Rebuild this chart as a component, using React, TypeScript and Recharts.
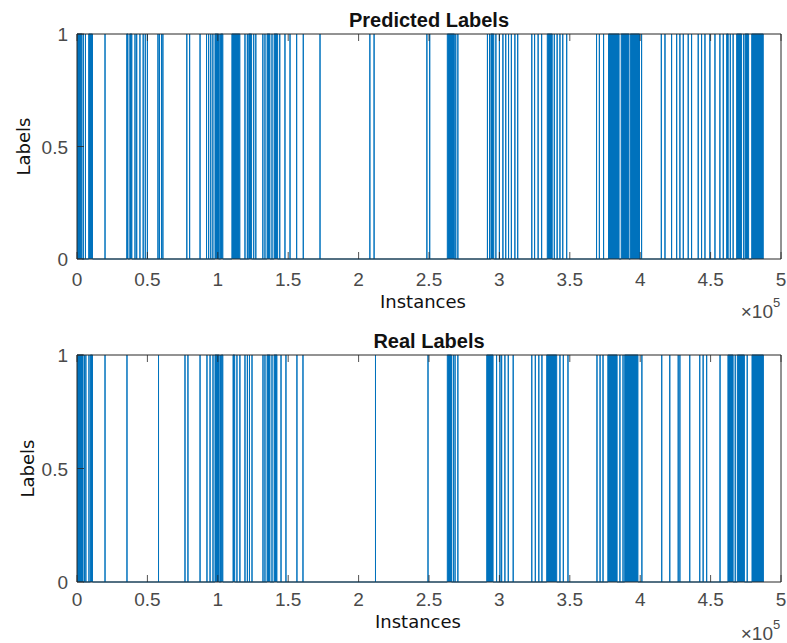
import { AreaChart, Area, XAxis, YAxis, Label } from "recharts"

const CHART_W = 787
const LINE_BLUE = "#0072BD"
const AXIS_GREY = "#262626"
const TICK_GREY = "#4a4a4a"
const TICK_FONT = "'Liberation Sans', Arial, sans-serif"
const LABEL_FONT = "'DejaVu Sans', Verdana, sans-serif"

const xTicks = [0, 50000, 100000, 150000, 200000, 250000, 300000, 350000, 400000, 450000, 500000]
const yTicks = [0, 0.5, 1]

// positions are in thousands of instances (axis reads them x10^5)
// lone spikes: label goes to 1 for a single instance
const predictedSpikes = [
  4.5, 6, 19.9, 41.2, 42.4, 44.7, 47, 48.5, 50, 57.5, 58.5, 60, 61, 78, 80, 87.4, 92, 93.5, 95, 96.5,
  101.5, 119.3, 121, 125.5, 127, 132, 133.5, 138.5, 144, 147.7, 151.3, 156, 160.7, 172.6, 208, 211,
  248.5, 250.5, 269, 270.5, 291.5, 293, 297.5, 300, 302.5, 304.5, 306.5, 308.5, 311, 313, 323, 325,
  327.5, 330, 339, 341, 343, 345, 347.8, 369, 371, 374, 401, 415, 417.6, 422.3, 425.9, 428.2, 430.6,
  434.1, 436.5, 441.2, 443.6, 446, 449.5, 453.1, 456.6, 459, 464, 466, 473.5
]
// stretches where the label flips to 1 so often it reads as a solid block
const predictedRuns = [
  [0, 3.5], [8.3, 11], [35.3, 36.2], [37.5, 39], [98, 100.5], [102, 103.6], [110, 115.7], [122, 124],
  [135, 137], [140, 142.5], [263, 268], [294, 296], [334, 337.5], [377.5, 385], [386.5, 392],
  [393, 399.5], [461.4, 462.5], [468.5, 472], [474.5, 477], [479.2, 487.4]
]

const realSpikes = [
  5.3, 6.3, 8.5, 19.9, 35.5, 57.9, 76.7, 78.8, 87.4, 92.3, 94.5, 96.6, 102, 113.6, 115.7, 119.3, 121,
  122.5, 124.3, 132.1, 133.5, 138.5, 144.9, 148.4, 156.2, 160.5, 212, 249.3, 267.3, 268.5, 270.5, 298,
  300.4, 301.6, 303.9, 306.3, 309.8, 323, 325.5, 328, 330.2, 343, 345.4, 348.7, 369.3, 371.5, 373.6,
  385.6, 387.8, 401.2, 415.3, 421, 427, 428.2, 435.2, 442.3, 444.7, 447.2, 456.7, 467.5, 476
]
const realRuns = [
  [0, 4.3], [9.5, 11], [98, 101], [102.5, 103.6], [110.8, 112], [135, 137], [140, 142], [263, 266],
  [291, 295.5], [333.6, 340.7], [377, 383.6], [389, 398.4], [462.3, 466], [469, 474], [479.4, 487.5]
]

function buildSteps(spikes: number[], runs: number[][]) {
  const pulses = [...spikes.map((s) => [s, s]), ...runs].sort((a, b) => a[0] - b[0])
  const rows = [{ x: 0, label: 0 }]
  pulses.forEach(([start, end]) => {
    rows.push({ x: start * 1000, label: 1 })
    rows.push({ x: end * 1000, label: 0 })
  })
  return rows
}

const predictedData = buildSteps(predictedSpikes, predictedRuns)
const realData = buildSteps(realSpikes, realRuns)

const BOTTOM_AXIS_H = 72

const BottomTick = ({ x, y, payload, dy }: any) => (
  <g>
    <line x1={x} y1={y} x2={x} y2={y - 7} stroke={AXIS_GREY} strokeWidth={0.8} />
    <text x={x} y={y + dy} textAnchor="middle" fill={TICK_GREY} fontSize={19} fontFamily={TICK_FONT}>
      {payload.value / 100000}
    </text>
  </g>
)

const TopTick = ({ x, y }: any) => (
  <line x1={x} y1={y} x2={x} y2={y + 7} stroke={AXIS_GREY} strokeWidth={0.8} />
)

const LeftTick = ({ x, y, payload }: any) => (
  <g>
    <line x1={x} y1={y} x2={x + 7} y2={y} stroke={AXIS_GREY} strokeWidth={0.8} />
    <text x={x - 9} y={y + 7} textAnchor="end" fill={TICK_GREY} fontSize={19} fontFamily={TICK_FONT}>
      {payload.value}
    </text>
  </g>
)

const RightTick = ({ x, y }: any) => (
  <line x1={x} y1={y} x2={x - 7} y2={y} stroke={AXIS_GREY} strokeWidth={0.8} />
)

interface PanelProps {
  title: string
  data: { x: number; label: number }[]
  plotTop: number
  plotBottom: number
  titleY: number
  tickDy: number
  xLabelX: number
  xLabelY: number
  x10Y: number
  yLabelX: number
}

function Panel({ title, data, plotTop, plotBottom, titleY, tickDy, xLabelX, xLabelY, x10Y, yLabelX }: PanelProps) {
  const yMid = (plotTop + plotBottom) / 2
  return (
    <AreaChart
      width={CHART_W}
      height={plotBottom + BOTTOM_AXIS_H}
      data={data}
      margin={{ top: plotTop - 1, right: 5, bottom: 0, left: 0 }}
    >
      <XAxis
        dataKey="x"
        type="number"
        domain={[0, 500000]}
        ticks={xTicks}
        interval={0}
        allowDataOverflow
        height={BOTTOM_AXIS_H}
        tickSize={0}
        tickMargin={0}
        stroke={AXIS_GREY}
        tick={(p: any) => <BottomTick {...p} dy={tickDy} />}
      >
        <Label
          content={() => (
            <g>
              <text x={xLabelX} y={xLabelY} textAnchor="middle" fill="#111" fontSize={18} fontFamily={LABEL_FONT}>
                Instances
              </text>
              <text x={773} y={x10Y} textAnchor="end" fill={TICK_GREY} fontSize={19} fontFamily={TICK_FONT}>
                ×10
              </text>
              <text x={773} y={x10Y - 11} textAnchor="start" fill={TICK_GREY} fontSize={13} fontFamily={TICK_FONT}>
                5
              </text>
            </g>
          )}
        />
      </XAxis>
      <XAxis
        xAxisId="top"
        dataKey="x"
        orientation="top"
        type="number"
        domain={[0, 500000]}
        ticks={xTicks}
        interval={0}
        allowDataOverflow
        height={1}
        tickSize={0}
        tickMargin={0}
        stroke={AXIS_GREY}
        tick={(p: any) => <TopTick {...p} />}
      >
        <Label
          content={() => (
            <text x={429} y={titleY} textAnchor="middle" fill="#111" fontSize={20} fontWeight="bold" fontFamily={TICK_FONT}>
              {title}
            </text>
          )}
        />
      </XAxis>
      <YAxis
        domain={[0, 1]}
        ticks={yTicks}
        interval={0}
        width={77}
        tickSize={0}
        tickMargin={0}
        stroke={AXIS_GREY}
        tick={(p: any) => <LeftTick {...p} />}
      >
        <Label
          content={() => (
            <text
              x={yLabelX}
              y={yMid}
              transform={`rotate(-90 ${yLabelX} ${yMid})`}
              textAnchor="middle"
              dominantBaseline="central"
              fill="#111"
              fontSize={18}
              fontFamily={LABEL_FONT}
            >
              Labels
            </text>
          )}
        />
      </YAxis>
      <YAxis
        yAxisId="right"
        orientation="right"
        domain={[0, 1]}
        ticks={yTicks}
        interval={0}
        width={1}
        tickSize={0}
        tickMargin={0}
        stroke={AXIS_GREY}
        tick={(p: any) => <RightTick {...p} />}
      />
      <Area
        dataKey="label"
        type="stepAfter"
        stroke={LINE_BLUE}
        strokeWidth={1}
        fill={LINE_BLUE}
        fillOpacity={1}
        dot={false}
        activeDot={false}
        isAnimationActive={false}
      />
    </AreaChart>
  )
}

export default function App() {
  return (
    <div style={{ position: "absolute", left: 0, top: 0, width: CHART_W, height: 643, overflow: "hidden", background: "#fff" }}>
      <div style={{ position: "absolute", left: 0, top: 0 }}>
        <Panel
          title="Predicted Labels"
          data={predictedData}
          plotTop={34}
          plotBottom={259}
          titleY={27}
          tickDy={27}
          xLabelX={423}
          xLabelY={308}
          x10Y={318}
          yLabelX={23}
        />
      </div>
      <div style={{ position: "absolute", left: 0, top: 320 }}>
        <Panel
          title="Real Labels"
          data={realData}
          plotTop={35}
          plotBottom={262}
          titleY={28}
          tickDy={24}
          xLabelX={418}
          xLabelY={308}
          x10Y={320}
          yLabelX={27}
        />
      </div>
    </div>
  )
}
